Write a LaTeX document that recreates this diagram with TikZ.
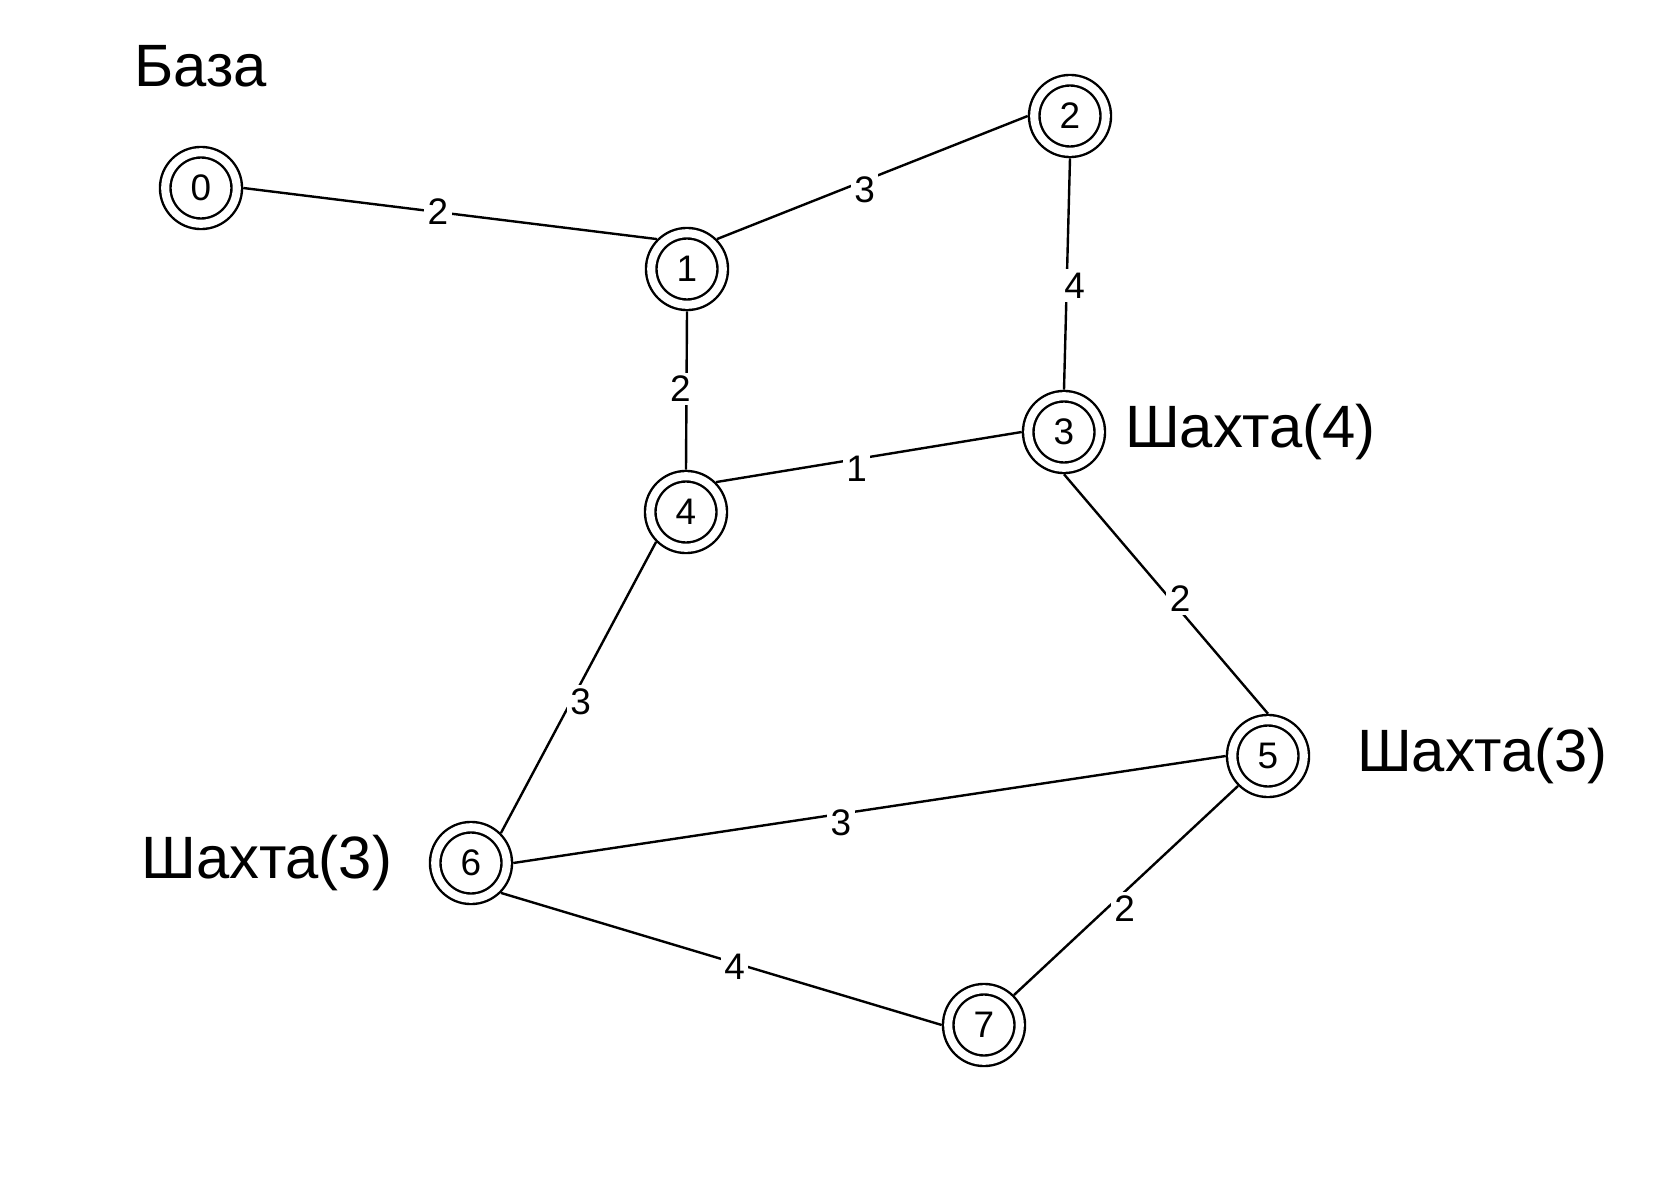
\documentclass[tikz,border=0pt]{standalone}
\usepackage{fontspec}
\setmainfont{Liberation Sans}
\usetikzlibrary{positioning}

\begin{document}
\begin{tikzpicture}[x=0.01cm, y=-0.01cm]

% ---------------------------------------------------------------- styles
\tikzset{
  site/.style = {circle, draw, double, line width=0.024cm,
                 double distance=0.081cm, minimum size=0.715cm,
                 inner sep=0pt, outer sep=0.065cm, fill=white,
                 font=\fontsize{10.5}{12}\selectfont},
  wt/.style   = {fill=white, inner sep=0.035cm,
                 font=\fontsize{10.5}{12}\selectfont},
  tag/.style  = {inner sep=0pt, font=\fontsize{17}{20}\selectfont},
  road/.style = {draw, line width=0.024cm},
}

\useasboundingbox (0,0) rectangle (1666,1188);

% ================================================================ points
\node[site] (n0) at ( 201, 188) {0};
\node[site] (n1) at ( 687, 269) {1};
\node[site] (n2) at (1070, 116) {2};
\node[site] (n3) at (1064, 432) {3};
\node[site] (n4) at ( 686, 512) {4};
\node[site] (n5) at (1268, 756) {5};
\node[site] (n6) at ( 471, 863) {6};
\node[site] (n7) at ( 984,1025) {7};

% ================================================================ names
\node[tag, above=0.58cm of n0] (base) {База};
\node[tag, right=0.18cm of n3] (m3)   {Шахта(4)};
\node[tag, right=0.46cm of n5] (m5)   {Шахта(3)};
\node[tag, left=0.36cm of n6]  (m6)   {Шахта(3)};

% ------------------------------------------------- roads with weights
\draw[road] (n0.east) -- node[wt, pos=.47] (w01) {2} (n1.135);
\draw[road] (n1.45) -- node[wt, pos=.475, yshift=-0.09cm] (w12) {3} (n2.west);
\draw[road] (n2.south) -- node[wt, pos=.55, xshift=0.08cm] (w23) {4} (n3.north);
\draw[road] (n1.south) -- node[wt, pos=.49, xshift=-0.06cm] (w14) {2} (n4.north);
\draw[road] (n4.45) -- node[wt, pos=.46, yshift=-0.10cm] (w43) {1} (n3.west);
\draw[road] (n4.225) -- node[wt, pos=.55, xshift=0.10cm] (w46) {3} (n6.45);
\draw[road] (n3.south) -- node[wt, pos=.52, xshift=0.10cm] (w35) {2} (n5.north);
\draw[road] (n6.east) -- node[wt, pos=.46, yshift=-0.09cm] (w65) {3} (n5.west);
\draw[road] (n6.315) -- node[wt, pos=.53, yshift=-0.04cm] (w67) {4} (n7.west);
\draw[road] (n5.225) -- node[wt, pos=.52, xshift=0.03cm, yshift=-0.14cm] (w57) {2} (n7.45);

\end{tikzpicture}
\end{document}
